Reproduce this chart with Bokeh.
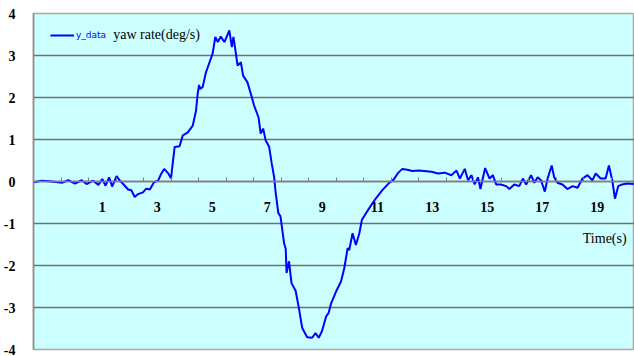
from bokeh.plotting import figure
from bokeh.models import FixedTicker, Legend, LegendItem, Label, PrintfTickFormatter
from bokeh.embed import file_html
from bokeh.resources import INLINE

# Yaw rate record (time in s, yaw rate in deg/s)
time_s = [-1.50, -1.20, -0.83, -0.47, -0.23, 0.01, 0.25, 0.43, 0.67, 0.86,
          1.00, 1.12, 1.25, 1.36, 1.52, 1.64, 1.76, 1.94, 2.06, 2.18,
          2.30, 2.48, 2.60, 2.73, 2.88, 3.03, 3.14, 3.25, 3.39, 3.50,
          3.63, 3.81, 3.93, 4.11, 4.29, 4.41, 4.47, 4.52, 4.56, 4.65,
          4.77, 4.90, 5.01, 5.11, 5.20, 5.31, 5.44, 5.52, 5.62, 5.71,
          5.77, 5.86, 5.92, 6.04, 6.12, 6.28, 6.40, 6.52, 6.68, 6.76,
          6.85, 6.94, 7.07, 7.16, 7.25, 7.30, 7.40, 7.48, 7.61, 7.67,
          7.70, 7.79, 7.88, 8.03, 8.15, 8.27, 8.45, 8.63, 8.75, 8.87,
          8.99, 9.14, 9.23, 9.32, 9.50, 9.68, 9.80, 9.92, 9.98, 10.10,
          10.22, 10.34, 10.44, 10.70, 10.95, 11.19, 11.45, 11.60, 11.75, 11.91,
          12.09, 12.27, 12.51, 12.97, 13.21, 13.45, 13.69, 13.88, 14.00, 14.18,
          14.30, 14.42, 14.54, 14.66, 14.75, 14.92, 15.08, 15.20, 15.32, 15.50,
          15.68, 15.80, 15.98, 16.16, 16.29, 16.41, 16.59, 16.71, 16.83, 16.95,
          17.09, 17.19, 17.34, 17.43, 17.55, 17.73, 17.91, 18.10, 18.28, 18.46,
          18.64, 18.82, 18.94, 19.12, 19.30, 19.42, 19.54, 19.64, 19.76, 19.90,
          20.08, 20.32]
yaw_rate = [-0.02, 0.02, 0.00, -0.03, 0.03, -0.05, 0.03, -0.06, 0.02, -0.08,
            0.06, -0.10, 0.10, -0.12, 0.13, 0.02, -0.06, -0.19, -0.21, -0.37,
            -0.30, -0.26, -0.17, -0.19, -0.02, 0.02, 0.18, 0.30, 0.20, 0.08,
            0.82, 0.84, 1.10, 1.17, 1.33, 1.69, 2.09, 2.30, 2.20, 2.25,
            2.60, 2.84, 3.04, 3.44, 3.32, 3.45, 3.32, 3.44, 3.60, 3.20,
            3.44, 3.04, 2.76, 2.84, 2.52, 2.36, 2.09, 1.81, 1.53, 1.14,
            1.26, 0.98, 0.82, 0.43, 0.10, -0.24, -0.75, -0.83, -1.47, -1.60,
            -2.18, -1.90, -2.42, -2.60, -3.02, -3.49, -3.71, -3.72, -3.61, -3.72,
            -3.56, -3.21, -3.13, -2.90, -2.62, -2.38, -2.06, -1.59, -1.63, -1.23,
            -1.51, -1.25, -0.91, -0.64, -0.40, -0.20, -0.02, 0.05, 0.20, 0.30,
            0.28, 0.25, 0.26, 0.23, 0.19, 0.21, 0.15, 0.26, 0.07, 0.30,
            0.03, 0.15, -0.07, 0.10, -0.18, 0.32, 0.07, 0.15, -0.07, -0.07,
            -0.11, -0.18, -0.07, -0.11, 0.07, -0.07, 0.15, -0.03, 0.10, 0.03,
            -0.24, 0.07, 0.38, 0.10, -0.03, -0.07, -0.18, -0.11, -0.15, 0.07,
            0.15, 0.03, 0.19, 0.07, 0.07, 0.38, 0.03, -0.41, -0.11, -0.07,
            -0.05, -0.06]

x_labels = [1, 3, 5, 7, 9, 11, 13, 15, 17, 19]
x_marks = [-0.5 + i for i in range(21)]
y_ticks = [-4, -3, -2, -1, 0, 1, 2, 3, 4]

p = figure(width=634, height=356, x_range=(-1.5, 20.35), y_range=(-4, 4),
           output_backend="svg", toolbar_location=None,
           min_border_left=30, min_border_right=0, min_border_top=13,
           min_border_bottom=7)

p.background_fill_color = "#CCFFFF"
p.border_fill_color = "white"
p.outline_line_color = "#a8a8a8"
p.outline_line_width = 1.5

# horizontal grid
p.xgrid.visible = False
p.ygrid.ticker = FixedTicker(ticks=y_ticks)
p.ygrid.grid_line_color = "#707070"
p.ygrid.grid_line_width = 1.5

# y axis
yax = p.yaxis[0]
yax.ticker = FixedTicker(ticks=y_ticks)
yax.formatter = PrintfTickFormatter(format="%d")
yax.axis_line_color = "#8a8a8a"
yax.axis_line_width = 1.5
yax.major_tick_line_color = None
yax.minor_tick_line_color = None
yax.major_label_text_font = "Liberation Serif"
yax.major_label_text_font_style = "bold"
yax.major_label_text_font_size = "14px"
yax.major_label_text_color = "black"
yax.major_label_standoff = 12

# time axis drawn along the zero line
xax = p.xaxis[0]
xax.fixed_location = 0
xax.ticker = FixedTicker(ticks=x_labels, minor_ticks=x_marks)
xax.formatter = PrintfTickFormatter(format="%d")
xax.axis_line_color = "#808080"
xax.axis_line_width = 1.5
xax.major_tick_line_color = None
xax.minor_tick_line_color = "#808080"
xax.minor_tick_in = 4
xax.minor_tick_out = 0
xax.major_label_text_font = "Liberation Serif"
xax.major_label_text_font_style = "bold"
xax.major_label_text_font_size = "14px"
xax.major_label_text_color = "black"
xax.major_label_standoff = 14

r = p.line(time_s, yaw_rate, line_color="#0000FF", line_width=2)

legend = Legend(items=[LegendItem(label="y_data", renderers=[r])],
                location="top_left", margin=0, padding=17,
                glyph_width=24, glyph_height=4, label_height=4,
                label_standoff=2, spacing=0,
                label_text_font="DejaVu Sans", label_text_font_size="9px",
                label_text_color="#0000FF",
                background_fill_alpha=0, border_line_alpha=0)
p.add_layout(legend)

p.add_layout(Label(x=1.40, y=3.49, text="yaw rate(deg/s)",
                   text_font="Liberation Serif", text_font_size="14px",
                   text_color="black", text_baseline="middle"))
p.add_layout(Label(x=18.47, y=-1.36, text="Time(s)",
                   text_font="Liberation Serif", text_font_size="14px",
                   text_color="black", text_baseline="middle"))

open("out.html", "w").write(file_html(p, INLINE))
